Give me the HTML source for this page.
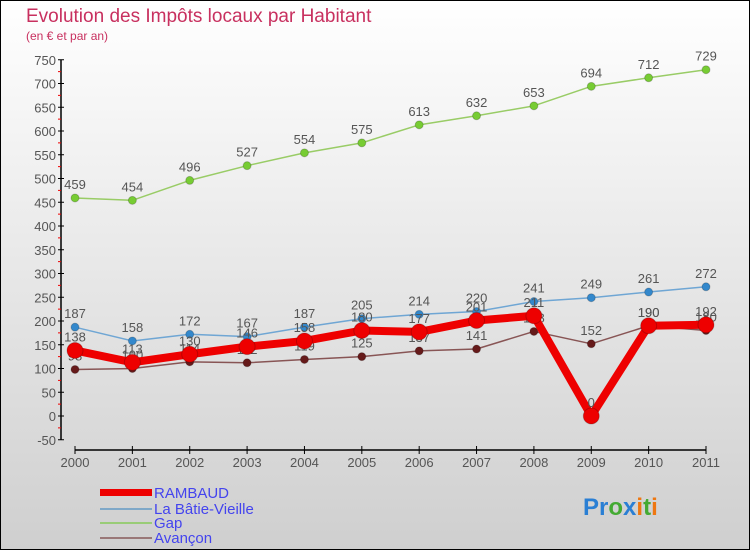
<!DOCTYPE html>
<html><head><meta charset="utf-8"><style>
body{margin:0}
svg{display:block;font-family:"Liberation Sans",sans-serif}
</style></head><body>
<svg id="c" width="750" height="550" viewBox="0 0 750 550">
<defs><linearGradient id="bg" x1="0" y1="0" x2="0" y2="1"><stop offset="0" stop-color="#ffffff"/><stop offset="1" stop-color="#cfcfcf"/></linearGradient></defs>
<rect x="0.5" y="0.5" width="749" height="549" fill="url(#bg)" stroke="#000"/>
<text x="26" y="22" font-size="19" fill="#c8305f">Evolution des Impôts locaux par Habitant</text>
<text x="26" y="40" font-size="12" fill="#c8305f">(en € et par an)</text>
<g id="axes"></g><g id="series"></g>
<g font-size="15" fill="#4444ee">
<rect x="100" y="489" width="52" height="7" fill="#e00"/>
<text x="154" y="498">RAMBAUD</text>
<rect x="100" y="508" width="52" height="2" fill="#7fa8c8"/>
<text x="154" y="514">La Bâtie-Vieille</text>
<rect x="100" y="522" width="52" height="2" fill="#99cc77"/>
<text x="154" y="528">Gap</text>
<rect x="100" y="537" width="52" height="2" fill="#997777"/>
<text x="154" y="543">Avançon</text>
</g>
<text x="583" y="515" font-size="24" font-weight="bold"><tspan fill="#2a7fd4">Pr</tspan><tspan fill="#44aa33">o</tspan><tspan fill="#2a7fd4">x</tspan><tspan fill="#ee7711">i</tspan><tspan fill="#44aa33">t</tspan><tspan fill="#ee7711">i</tspan></text>
</svg>
<script>
const years=["2000","2001","2002","2003","2004","2005","2006","2007","2008","2009","2010","2011"];
const rambaud=[138,113,130,146,158,180,177,201,211,0,190,192];
const batie=[187,158,172,167,187,205,214,220,241,249,261,272];
const gap=[459,454,496,527,554,575,613,632,653,694,712,729];
const avancon=[98,100,114,112,119,125,137,141,178,152,190,180];
const yTicks=[-50,0,50,100,150,200,250,300,350,400,450,500,550,600,650,700,750];
const NS="http://www.w3.org/2000/svg";
const X=i=>75+i*(706-75)/(years.length-1);
const Y=v=>416-v*0.475;
function mk(p,t,a){const e=document.createElementNS(NS,t);for(const k in a)e.setAttribute(k,a[k]);p.appendChild(e);return e;}
const ax=document.getElementById('axes');
let l=mk(ax,'line',{x1:61,y1:Y(750),x2:61,y2:Y(-50),stroke:'#000','stroke-width':1.5});


yTicks.forEach((v,i)=>{
 const t=mk(ax,'line',{x1:58,x2:64,y1:Y(v),y2:Y(v),stroke:'#000'});
 
 
 if(i<yTicks.length-1){const m=mk(ax,'line',{x1:58,x2:61,y1:Y(v+25),y2:Y(v+25),stroke:'#e00'});
 
 }
 const tx=mk(ax,'text',{x:56,y:Y(v)+5,'text-anchor':'end','font-size':13,fill:'#555'});tx.textContent=v;
 
 
});
l=mk(ax,'line',{x1:X(0),y1:450,x2:X(11),y2:450,stroke:'#000','stroke-width':1.5});


years.forEach((y,i)=>{
 const t=mk(ax,'line',{x1:X(i),x2:X(i),y1:446,y2:454,stroke:'#000'});
 
 
 const tx=mk(ax,'text',{x:X(i),y:467,'text-anchor':'middle','font-size':13,fill:'#555'});tx.textContent=y;
 
 
});
const sg=document.getElementById('series');
function series(d,name,col,w,r,dot){
 const g=mk(sg,'g',{});
 
 
 const p=mk(g,'polyline',{points:d.map((v,i)=>X(i)+','+Y(v)).join(' '),fill:'none',stroke:col,'stroke-width':w,'stroke-linejoin':'round'});
 
 
 d.forEach((v,i)=>{
  const c=mk(g,'circle',{cx:X(i),cy:Y(v),r:r,fill:dot,stroke:'rgba(0,0,0,0.2)'});
  
  
  const t=mk(g,'text',{x:X(i),y:Y(v)-9,'text-anchor':'middle','font-size':13,fill:'#555'});t.textContent=v;
  
  
 });
}
series(gap,'gap','#99cc66',1.5,4,'#77cc33');
series(avancon,'avancon','#885555',1.5,4,'#661a1a');
series(batie,'la-batie-vieille','#6fa6d4',1.5,4,'#3388cc');
series(rambaud,'rambaud','#ee0000',8,8,'#ee0000');
</script>
</body></html>
